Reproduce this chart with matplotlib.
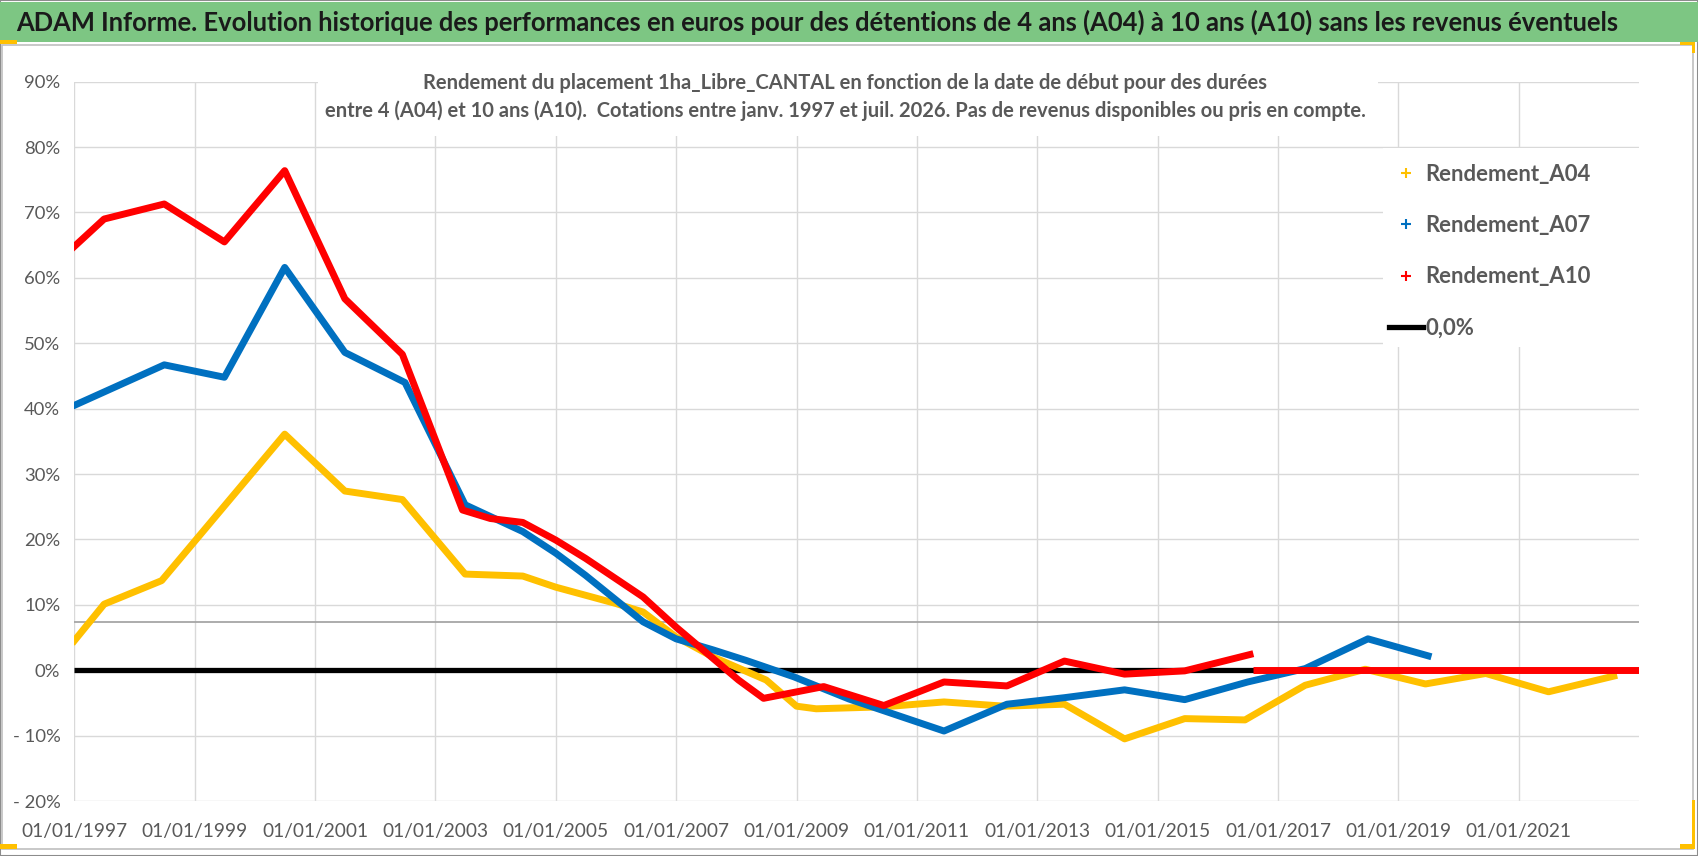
import numpy as np
import pandas as pd
import matplotlib
matplotlib.use("Agg")
import matplotlib.pyplot as plt
import matplotlib.dates as mdates
from matplotlib.lines import Line2D
from matplotlib.patches import Rectangle
from matplotlib.ticker import FuncFormatter, MultipleLocator

W, H = 1698, 856
FONT = ["Liberation Sans Narrow", "Lato", "DejaVu Sans"]
plt.rcParams["font.family"] = FONT

TITLE = ("ADAM Informe. Evolution historique des performances en euros pour des "
         "détentions de 4 ans (A04) à 10 ans (A10) sans les revenus éventuels")
SUBTITLE = ("Rendement du placement 1ha_Libre_CANTAL en fonction de la date de début pour des durées\n"
            "entre 4 (A04) et 10 ans (A10).  Cotations entre janv. 1997 et juil. 2026. "
            "Pas de revenus disponibles ou pris en compte.")

# Rendement sur 4 ans (%)
a04_dates = ["1997-01-01", "1997-07-01", "1998-06-15", "2000-07-01", "2001-07-01",
             "2002-06-15", "2003-07-01", "2004-06-15", "2005-01-01", "2006-01-01",
             "2006-06-15", "2007-01-01", "2007-08-15", "2008-07-01", "2009-01-01",
             "2009-05-01", "2010-06-15", "2011-06-15", "2012-06-15", "2013-06-15",
             "2014-06-15", "2015-06-15", "2016-06-15", "2017-06-15", "2018-06-15",
             "2019-06-15", "2020-06-15", "2021-07-01", "2022-08-01"]
a04_values = [4.5, 10.1, 13.7, 36.1, 27.4,
              26.1, 14.7, 14.4, 12.7, 10.2,
              8.9, 5.1, 2.0, -1.5, -5.5,
              -5.9, -5.6, -4.85, -5.5, -5.2,
              -10.5, -7.4, -7.6, -2.3, 0.15,
              -2.1, -0.5, -3.3, -0.9]

# Rendement sur 7 ans (%)
a07_dates = ["1997-01-01", "1998-07-01", "1999-07-01", "2000-07-01", "2001-07-01",
             "2002-07-01", "2003-07-01", "2004-06-15", "2005-01-01", "2005-07-01",
             "2006-06-15", "2007-01-01", "2007-08-15", "2008-03-01", "2008-12-15",
             "2009-11-15", "2011-06-15", "2012-07-01", "2013-06-15", "2014-06-15",
             "2015-06-15", "2016-07-01", "2017-06-15", "2018-07-01", "2019-07-01"]
a07_values = [40.5, 46.7, 44.8, 61.6, 48.6,
              44.0, 25.3, 21.2, 17.9, 14.5,
              7.4, 4.8, 3.1, 1.5, -1.0,
              -4.4, -9.3, -5.2, -4.2, -3.0,
              -4.5, -1.8, 0.25, 4.8, 2.2]

# Rendement sur 10 ans (%), puis valeurs nulles sans donnees
a10_dates = ["1997-01-01", "1997-07-01", "1998-07-01", "1999-07-01", "2000-07-01",
             "2001-07-01", "2002-06-15", "2003-06-15", "2003-12-01", "2004-06-15",
             "2005-01-01", "2005-07-01", "2006-06-15", "2007-01-01", "2008-01-15",
             "2008-06-15", "2009-06-15", "2010-06-15", "2011-06-15", "2012-07-01",
             "2013-06-15", "2014-06-15", "2015-06-15", "2016-07-15"]
a10_values = [64.8, 69.0, 71.3, 65.5, 76.4,
              56.8, 48.3, 24.5, 23.2, 22.6,
              19.9, 17.1, 11.2, 6.6, -1.5,
              -4.3, -2.5, -5.4, -1.8, -2.4,
              1.4, -0.6, -0.1, 2.4]
a10_tail_dates = ["2016-08-01", "2023-01-01"]
a10_tail_values = [0.0, 0.0]

zero_dates = ["1997-01-01", "2023-01-01"]
zero_values = [0.0, 0.0]

tick_years = list(range(1997, 2022, 2))
labels = ["Rendement_A04", "Rendement_A07", "Rendement_A10", "0,0%"]
colors = ["#FFC000", "#0070C0", "#FF0000", "black"]


def box(x0, y0, x1, y1):
    """Pixel box (origin top-left) -> figure fraction [left, bottom, width, height]."""
    return [x0 / W, 1 - y1 / H, (x1 - x0) / W, (y1 - y0) / H]


fig = plt.figure(figsize=(W / 100, H / 100), dpi=100)
fig.patch.set_facecolor("white")

# frame, green title band, chart area, selection handles
fig.patches.append(Rectangle((0, 0), 1, 1, transform=fig.transFigure,
                             fill=False, ec="#8c8c8c", lw=1.5))
l, b, w, h = box(0, 2, W, 42)
fig.patches.append(Rectangle((l, b), w, h, transform=fig.transFigure,
                             fc="#7dc683", ec="none"))
l, b, w, h = box(2, 45, 1693, 849)
fig.patches.append(Rectangle((l, b), w, h, transform=fig.transFigure,
                             fill=False, ec="#bfbfbf", lw=1.2))
for bx in [(0, 40, 17, 44), (0, 844, 17, 849), (1680, 42, 1695, 45),
           (1692, 42, 1695, 53), (1692, 800, 1695, 849), (1680, 844, 1695, 849)]:
    l, b, w, h = box(*bx)
    fig.patches.append(Rectangle((l, b), w, h, transform=fig.transFigure,
                                 fc="#ffc000", ec="none"))

title = fig.text(16 / W, 1 - 22 / H, TITLE, ha="left", va="center",
                 fontsize=20, fontweight="bold", color="#1a1a1a")

ax = fig.add_axes(box(74.3, 81.7, 1639, 801))
ax.set_facecolor("white")

LW = 5.0
ax.plot(pd.to_datetime(zero_dates), zero_values, color="black", lw=3.8,
        solid_capstyle="butt", zorder=2.5)
ax.plot(pd.to_datetime(a04_dates), a04_values, color=colors[0], lw=LW,
        solid_joinstyle="round", zorder=3)
ax.plot(pd.to_datetime(a07_dates), a07_values, color=colors[1], lw=LW,
        solid_joinstyle="round", zorder=3.1)
ax.plot(pd.to_datetime(a10_dates), a10_values, color=colors[2], lw=LW,
        solid_joinstyle="round", zorder=3.2)
ax.plot(pd.to_datetime(a10_tail_dates), a10_tail_values, color=colors[2], lw=LW,
        solid_capstyle="butt", zorder=3.2)
ax.axhline(7.3, color="#a6a6a6", lw=1.3, zorder=1)

ax.set_xlim(pd.Timestamp("1997-01-01"), pd.Timestamp("2023-01-01"))
ax.set_ylim(-20, 90)
ax.set_xticks(pd.to_datetime([f"{y}-01-01" for y in tick_years]))
ax.xaxis.set_major_formatter(mdates.DateFormatter("%d/%m/%Y"))
ax.yaxis.set_major_locator(MultipleLocator(10))
ax.yaxis.set_major_formatter(FuncFormatter(
    lambda v, p: f"- {abs(v):.0f}%" if v < 0 else f"{v:.0f}%"))

ax.set_axisbelow(True)
ax.grid(True, color="#d9d9d9", lw=1.0)
for s in ax.spines.values():
    s.set_visible(False)
ax.tick_params(axis="x", length=0, pad=16, labelsize=13.8, colors="#595959")
ax.tick_params(axis="y", length=0, pad=10, labelsize=13.3, colors="#595959")

# white boxes under subtitle and legend
for bx in [(318, 58, 1378, 136), (1383, 148, 1640, 347)]:
    l, b, w, h = box(*bx)
    ax.add_patch(Rectangle((l, b), w, h, transform=fig.transFigure,
                           fc="white", ec="none", zorder=1.5, clip_on=False))

subtitle = ax.text(845 / W, 1 - 97 / H, SUBTITLE, transform=fig.transFigure,
                   ha="center", va="center", multialignment="center",
                   fontsize=15, fontweight="bold", color="#595959",
                   linespacing=1.45, zorder=5)


def fit(artists, target):
    for _ in range(3):
        fig.canvas.draw()
        wpx = artists[0].get_window_extent().width
        for a in artists:
            a.set_fontsize(a.get_fontsize() * target / wpx)


fit([title], 1605)
fit([subtitle], 1046)

# legend font size from the width of one label
probe = fig.text(0, 0, labels[0], fontsize=17, fontweight="bold")
fit([probe], 165)
leg_size = probe.get_fontsize()
probe.remove()
size_px = leg_size * 100 / 72

handles = [Line2D([], [], color=c, marker="+", ls="none", ms=7, mew=1.5)
           for c in colors[:3]]
handles.append(Line2D([], [], color="black", lw=3.8))
leg = ax.legend(handles, labels, loc="upper left",
                bbox_to_anchor=(1389 / W, 1 - 163.5 / H),
                bbox_transform=fig.transFigure, frameon=False,
                borderpad=0, borderaxespad=0, handlelength=34 / size_px,
                handletextpad=2 / size_px,
                labelspacing=(57 - 1.2 * size_px) / size_px,
                prop=dict(family=FONT, weight="bold", size=leg_size))
leg.set_zorder(6)
for t in leg.get_texts():
    t.set_color("#595959")

fig.savefig("out.png", dpi=100)
